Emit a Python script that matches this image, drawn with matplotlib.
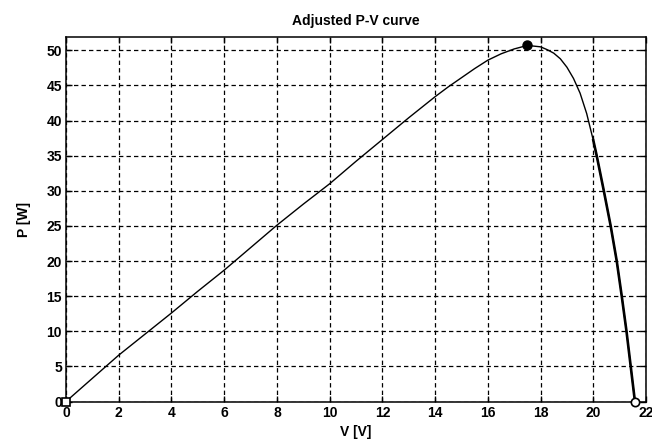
import numpy as np
import matplotlib
matplotlib.use("Agg")
import matplotlib.pyplot as plt

# P-V curve data
V = [0, 1, 2, 3, 4, 5, 6, 7, 8, 9, 10, 11, 12, 13, 14, 14.5, 15, 15.5, 16,
     16.5, 17, 17.5, 18, 18.25, 18.5, 18.75, 19, 19.25, 19.5, 19.75, 20,
     20.13, 20.4, 20.66, 20.89, 21.08, 21.26, 21.42, 21.58]
P = [0, 3.3, 6.6, 9.6, 12.6, 15.7, 18.7, 21.9, 25.1, 28.1, 31.0, 34.2, 37.3,
     40.4, 43.4, 44.8, 46.1, 47.4, 48.6, 49.5, 50.2, 50.7, 50.5, 50.1, 49.6,
     48.8, 47.6, 46.0, 43.9, 41.0, 37.2, 35, 30, 25, 20, 15, 10, 5, 0]
V_mpp, P_mpp = 17.5, 50.7
V_oc = 21.58

x_ticks = list(range(0, 23, 2))
y_ticks = list(range(0, 51, 5))

plt.rcParams['font.family'] = ['Liberation Sans Narrow', 'Liberation Sans', 'DejaVu Sans']
plt.rcParams['font.weight'] = 'bold'

fig = plt.figure(figsize=(6.52, 4.46), dpi=100)
ax = fig.add_axes([66/652, 1 - 401.5/446, (646-66)/652, (401.5-37)/446])

Va = np.array(V); Pa = np.array(P)
ax.plot(Va, Pa, color='black', lw=1.0, zorder=3)
m = Va >= 20
ax.plot(Va[m], Pa[m], color='black', lw=1.9, zorder=3)
ax.plot([V[0]], [P[0]], marker='s', ms=6, mfc='white', mec='black', mew=1.2, zorder=4, clip_on=False)
ax.plot([V_oc], [0], marker='o', ms=6, mfc='white', mec='black', mew=1.2, zorder=4, clip_on=False)
ax.plot([V_mpp], [P_mpp], marker='o', ms=6.5, color='black', zorder=4, clip_on=False)

ax.set_xlim(0, 22)
ax.set_ylim(0, 51.9)
ax.set_xticks(x_ticks)
ax.set_yticks(y_ticks)
ax.tick_params(direction='in', length=4, width=1, top=True, right=True,
               labelsize=10, pad=3)
for lab in ax.get_xticklabels() + ax.get_yticklabels():
    lab.set_fontweight('bold')
ax.grid(True, color='black', linestyle=(0, (3.5, 2.5)), linewidth=0.9)
for s in ax.spines.values():
    s.set_linewidth(1.1)

ax.set_title('Adjusted P-V curve', fontsize=10, fontweight='bold', pad=9)
ax.set_xlabel('V [V]', fontsize=10, fontweight='bold', labelpad=4)
ax.set_ylabel('P [W]', fontsize=10, fontweight='bold', labelpad=11)

fig.savefig('out.png', dpi=100)
